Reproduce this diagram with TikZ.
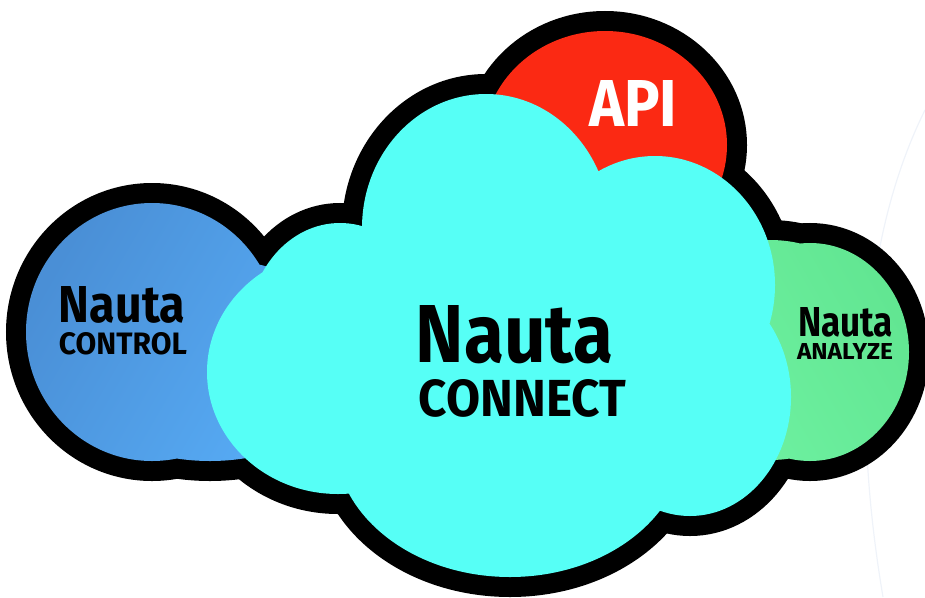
\documentclass[tikz,border=0pt]{standalone}
\usepackage{fontspec}
\setmainfont{Fira Sans}
\usepackage{graphicx}
\definecolor{cloudcyan}{HTML}{56FFF6}
\definecolor{apired}{HTML}{FB2913}
\definecolor{bluedark}{HTML}{4A8FD6}
\definecolor{bluelight}{HTML}{58AEF8}
\definecolor{greenlight}{HTML}{70F3A4}
\definecolor{greendark}{HTML}{62E692}
\definecolor{faintarc}{HTML}{EFF3F9}
\begin{document}
\begin{tikzpicture}[x=1pt,y=-1pt,
  outl/.style={draw=black, line width=40pt},
  lbl/.style={inner sep=0pt, outer sep=0pt, text=black},
  lblw/.style={inner sep=0pt, outer sep=0pt, text=white}]
\useasboundingbox (0,0) rectangle (925,597);
% faint background arc
\draw[faintarc, line width=1.2pt] (925,110) .. controls (868,225) and (848,390) .. (883,597);
% black outlines (union offset)
\path[outl] (152,332) ellipse [x radius=126, y radius=129];
\path[outl] (210,360) ellipse [x radius=150, y radius=101];
\path[outl] (605,145) ellipse [x radius=122, y radius=114];
\path[outl] (810,352) ellipse [x radius=99, y radius=109];
\path[outl] (770,350) ellipse [x radius=120, y radius=110];
\path[outl] (486,228) ellipse [x radius=124, y radius=134];
\path[outl] (655,285) ellipse [x radius=120, y radius=129];
\path[outl] (690,397) ellipse [x radius=101, y radius=119];
\path[outl] (510,440) ellipse [x radius=175, y radius=137];
\path[outl] (338,372) ellipse [x radius=131, y radius=122];
\path[outl] (340,330) ellipse [x radius=92, y radius=107];
% coloured fills
\path[left color=bluedark, right color=bluelight, shading angle=60]
  (152,332) ellipse [x radius=126, y radius=129]
  (210,360) ellipse [x radius=150, y radius=101];
\fill[apired] (605,145) ellipse [x radius=122, y radius=114];
\path[left color=greenlight, right color=greendark, shading angle=120]
  (810,352) ellipse [x radius=99, y radius=109]
  (770,350) ellipse [x radius=120, y radius=110];
% cyan cloud
\fill[cloudcyan]
  (486,228) ellipse [x radius=124, y radius=134]
  (655,285) ellipse [x radius=120, y radius=129]
  (690,397) ellipse [x radius=101, y radius=119]
  (510,440) ellipse [x radius=175, y radius=137]
  (338,372) ellipse [x radius=131, y radius=122]
  (340,330) ellipse [x radius=92, y radius=107]
  (510,340) ellipse [x radius=150, y radius=120];
% labels
\node[lbl] (ctlN) at (122,305) {\resizebox{126pt}{36pt}{\bfseries Nauta}};
\node[lbl] (ctlT) at (123,344) {\resizebox{128pt}{22pt}{\bfseries CONTROL}};
\node[lbl] (conN) at (514.5,334.5) {\resizebox{197pt}{57pt}{\bfseries Nauta}};
\node[lbl] (conT) at (522.5,398.5) {\resizebox{207pt}{37pt}{\bfseries CONNECT}};
\node[lbl] (anaN) at (845.5,322.5) {\resizebox{95pt}{29pt}{\bfseries Nauta}};
\node[lbl] (anaT) at (845,351) {\resizebox{96pt}{16pt}{\bfseries ANALYZE}};
\node[lblw] (api) at (633,103) {\resizebox{88pt}{46pt}{\bfseries API}};
\end{tikzpicture}
\end{document}
